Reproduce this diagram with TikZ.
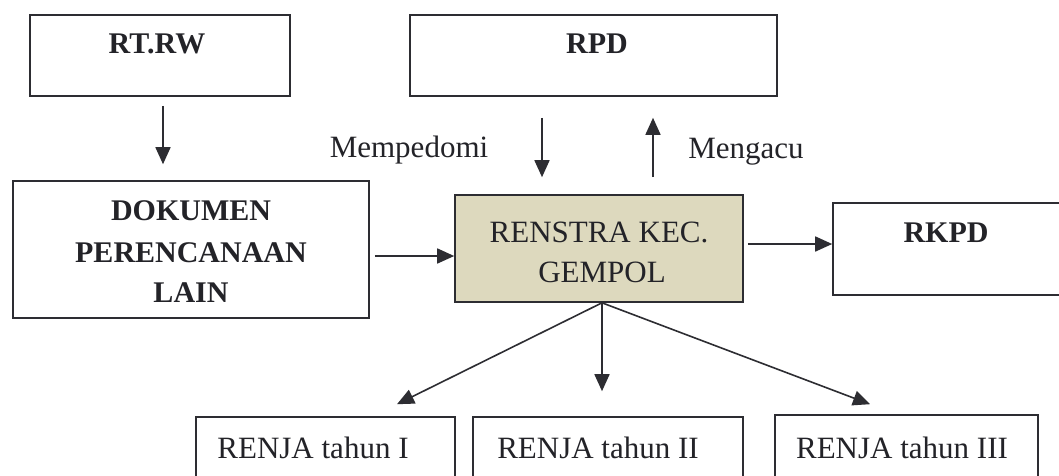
\documentclass[tikz,border=0pt]{standalone}
\usepackage{fontspec}
\setmainfont{Liberation Serif}
\usetikzlibrary{arrows.meta}
\definecolor{linec}{RGB}{45,45,50}
\definecolor{textc}{RGB}{35,35,40}
\definecolor{renfill}{RGB}{221,217,190}
\tikzset{
  box/.style={draw=linec, line width=1.6pt, fill=white, inner sep=0pt},
  lbl/.style={font=\fontsize{31}{36}\selectfont, text=textc, inner sep=0pt, anchor=base},
  blbl/.style={font=\fontsize{30}{36}\selectfont\bfseries, text=textc, inner sep=0pt, anchor=base},
  arr/.style={draw=linec, line width=1.6pt, -{Triangle[length=17pt,width=15pt]}}
}
\begin{document}
\begin{tikzpicture}[x=1pt,y=-1pt]
\fill[white] (0,0) rectangle (1059,475);
\useasboundingbox (0,0) rectangle (1059,475);
\clip (0,0) rectangle (1059,475);
% boxes
\node[box, minimum width=260pt, minimum height=81pt] (rtrw) at (160,55.5) {};
\node[box, minimum width=367pt, minimum height=81pt] (rpd) at (593.5,55.5) {};
\node[box, minimum width=356pt, minimum height=137pt] (dok) at (191,249.5) {};
\node[box, fill=renfill, minimum width=288pt, minimum height=107pt] (ren) at (599,248.5) {};
\node[box, minimum width=237pt, minimum height=92pt] (rkpd) at (951.5,249) {};
\node[box, minimum width=259pt, minimum height=83pt] (r1) at (325.5,458.5) {};
\node[box, minimum width=270pt, minimum height=83pt] (r2) at (608,458.5) {};
\node[box, minimum width=263pt, minimum height=85pt] (r3) at (906.5,457.5) {};
% texts
\node[blbl] (trtrw) at (157,53) {RT.RW};
\node[blbl] (trpd) at (597,53) {RPD};
\node[blbl] (tdok1) at (191,220) {DOKUMEN};
\node[blbl] (tdok2) at (191,262) {PERENCANAAN};
\node[blbl] (tdok3) at (191,302) {LAIN};
\node[lbl] (tren1) at (599,242) {RENSTRA KEC.};
\node[lbl] (tren2) at (602,282) {GEMPOL};
\node[blbl] (trkpd) at (946,242) {RKPD};
\node[lbl] (tr1) at (313,458) {RENJA tahun I};
\node[lbl] (tr2) at (598,458) {RENJA tahun II};
\node[lbl] (tr3) at (902,458) {RENJA tahun III};
\node[lbl] (tmem) at (409,157) {Mempedomi};
\node[lbl] (tmen) at (746,158) {Mengacu};
% connectors
\draw[arr, shorten <=9pt, shorten >=16pt] ([xshift=3pt]rtrw.south) -- ([xshift=3pt]rtrw.south |- dok.north);
\draw[arr, shorten <=21pt, shorten >=17pt] ([xshift=-51.5pt]rpd.south) -- ([xshift=-51.5pt]rpd.south |- ren.north);
\draw[arr, shorten <=17pt, shorten >=21pt] ([xshift=59.5pt]rpd.south |- ren.north) -- ([xshift=59.5pt]rpd.south);
\draw[arr, shorten <=5pt] ([yshift=-6.5pt]dok.east) -- ([yshift=-6.5pt]dok.east -| ren.west);
\draw[arr, shorten <=4pt] ([yshift=4.5pt]ren.east) -- ([yshift=4.5pt]ren.east -| rkpd.west);
\draw[arr] ([xshift=3pt]ren.south) -- ([xshift=71.5pt,yshift=12pt]r1.north);
\draw[arr] ([xshift=3pt]ren.south) -- ([xshift=-6pt,yshift=25pt]r2.north);
\draw[arr] ([xshift=3pt]ren.south) -- ([xshift=-36.5pt,yshift=10pt]r3.north);
\end{tikzpicture}
\end{document}
